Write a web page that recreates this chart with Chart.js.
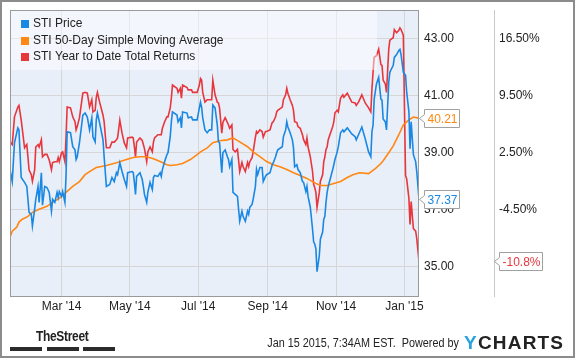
<!DOCTYPE html>
<html>
<head>
<meta charset="utf-8">
<script src="https://cdn.jsdelivr.net/npm/chart.js@4.4.1/dist/chart.umd.min.js"></script>
<style>
  html, body { margin: 0; padding: 0; background: #fff; }
  #wrap { position: relative; width: 575px; height: 358px; overflow: hidden; font-family: Arial, "Liberation Sans", sans-serif; }
  #wrap canvas { position: absolute; left: 0; top: 0; }
  .frame { position: absolute; left: 0; top: 0; width: 575px; height: 358px; box-sizing: border-box; border: 2px solid #8c8c8c; pointer-events: none; }
  .street { position: absolute; left: 36px; top: 327px; font: bold 15px Arial, "Liberation Sans", sans-serif; color: #222; letter-spacing: -0.4px; transform: scaleX(0.8); transform-origin: 0 0; }
  .bar { position: absolute; top: 347px; height: 4px; width: 32px; background: #2b2b2b; }
  .stamp { position: absolute; right: 116px; top: 336px; font-size: 12px; color: #222; white-space: nowrap; transform: scaleX(0.9); transform-origin: 100% 0; }
  .ych { position: absolute; left: 464px; top: 332px; font: bold 19px Arial, "Liberation Sans", sans-serif; letter-spacing: 1.2px; color: #222; }
  .ych span { color: #29a3dd; }
</style>
</head>
<body>
<div id="wrap">
  <canvas id="chart" width="575" height="358"></canvas>
  <div class="street">TheStreet</div>
  <div class="bar" style="left:10px"></div>
  <div class="bar" style="left:47px"></div>
  <div class="bar" style="left:83px"></div>
  <div class="stamp">Jan 15 2015, 7:34AM EST.&nbsp; Powered by</div>
  <div class="ych"><span>Y</span>CHARTS</div>
  <div class="frame"></div>
</div>
<script>
// day numbers count from 2014-01-14
const startDate = '2014-01-14';
const tickDates = ['2014-03-01', '2014-05-01', '2014-07-01', '2014-09-01', '2014-11-01', '2015-01-01'];
const tickLabels = ["Mar '14", "May '14", "Jul '14", "Sep '14", "Nov '14", "Jan '15"];
const priceTicks = [35, 37, 39, 41, 43];
const returnTicks = [16.5, 9.5, 2.5, -4.5];

const seriesNames = ['STI Price', 'STI 50-Day Simple Moving Average', 'STI Year to Date Total Returns'];
const seriesColors = ['#1a88e3', '#ff8712', '#e8363d'];

const days = [0, 2, 4, 7, 8, 10, 13, 15, 16, 17, 19, 20, 22, 23, 25, 26, 28, 29, 31, 33,
  35, 37, 38, 40, 42, 43, 44, 46, 47, 49, 50, 51, 54, 56, 58, 59, 60, 62, 65, 67,
  69, 71, 73, 74, 76, 77, 78, 80, 83, 84, 86, 89, 91, 93, 95, 96, 98, 100, 102, 104,
  105, 109, 110, 111, 112, 113, 116, 118, 119, 120, 122, 123, 125, 127, 128, 129, 132, 134, 135, 136,
  138, 140, 141, 143, 144, 145, 149, 150, 152, 153, 154, 158, 159, 162, 163, 167, 169, 170, 171, 172,
  174, 176, 178, 180, 181, 183, 185, 186, 187, 189, 190, 192, 194, 195, 196, 198, 199, 201, 203, 204,
  205, 207, 208, 210, 212, 213, 214, 216, 217, 219, 220, 221, 223, 225, 226, 228, 229, 232, 234, 235,
  237, 238, 239, 243, 244, 246, 247, 248, 250, 252, 253, 254, 256, 257, 259, 261, 262, 264, 265, 266,
  268, 270, 271, 272, 273, 274, 276, 277, 279, 280, 281, 282, 283, 284, 288, 289, 290, 292, 293, 295,
  297, 298, 301, 305, 308, 309, 311, 314, 317, 320, 322, 323, 324, 325, 327, 329, 331, 332, 333, 335,
  336, 338, 339, 342, 343, 345, 347, 348, 349, 351, 353, 354, 356, 357, 358, 360, 362, 363, 365];

const price = [38.41, 37.99, 39.35, 39.87, 39.80, 38.13, 37.96, 37.82, 37.37, 36.91, 36.84, 36.43, 37.02, 37.37, 37.82, 37.26, 38.30, 37.16, 37.82, 37.78,
  37.61, 36.95, 37.37, 37.26, 37.61, 37.43, 37.64, 37.47, 37.64, 37.26, 38.17, 39.73, 39.70, 39.21, 39.10, 38.76, 38.86, 39.35, 40.32, 40.39,
  40.25, 39.80, 40.22, 39.56, 39.38, 40.15, 40.39, 40.04, 39.45, 38.86, 37.82, 37.89, 38.13, 37.99, 38.30, 38.23, 38.65, 38.34, 38.06, 37.82,
  38.30, 38.34, 38.30, 37.96, 37.54, 38.17, 38.30, 38.06, 37.82, 37.54, 37.26, 37.61, 37.96, 37.71, 38.13, 38.20, 38.17, 38.30, 38.17, 38.41,
  38.69, 38.93, 39.00, 39.56, 40.08, 40.43, 40.32, 40.08, 40.22, 39.87, 40.43, 40.39, 40.22, 40.25, 40.15, 40.15, 40.57, 40.77, 40.60, 40.22,
  39.80, 39.70, 39.80, 39.80, 40.67, 40.57, 39.97, 39.38, 39.35, 38.30, 39.00, 39.10, 38.86, 38.76, 38.51, 38.76, 37.61, 37.54, 37.47, 37.02,
  36.60, 36.95, 36.77, 36.60, 36.95, 36.84, 37.09, 37.19, 37.37, 37.82, 38.41, 38.23, 38.48, 38.48, 37.99, 38.17, 38.23, 38.30, 38.58, 38.65,
  38.86, 39.00, 39.10, 39.21, 39.56, 39.80, 40.08, 39.90, 39.70, 39.45, 39.17, 38.51, 38.58, 38.41, 38.30, 37.99, 37.96, 37.64, 37.82, 37.47,
  37.09, 36.32, 35.87, 35.80, 35.63, 34.83, 35.38, 35.97, 36.22, 36.67, 36.77, 37.26, 37.61, 37.82, 38.41, 38.58, 38.76, 39.03, 39.21, 39.70,
  39.80, 39.73, 39.87, 39.66, 39.56, 39.45, 39.63, 39.90, 39.49, 39.03, 38.86, 39.73, 39.97, 40.88, 41.40, 41.64, 40.88, 40.84, 40.18, 40.08,
  39.80, 41.47, 41.82, 42.06, 42.34, 42.44, 42.58, 42.62, 42.44, 41.82, 41.71, 41.12, 40.43, 39.14, 40.08, 38.93, 38.69, 38.34, 37.37];

const totalReturn = [3.8, 3.5, 6.9, 8.1, 8.3, 6.5, 3.1, 3.5, 2.0, 0.4, -0.2, -1.0, 0.4, 3.2, 3.5, 3.2, 4.1, 2.0, 2.3, 2.3,
  1.6, 0.4, 1.3, 1.4, 1.4, 1.9, 1.4, 2.5, 2.6, 1.4, 4.4, 8.1, 8.0, 6.9, 6.3, 5.3, 5.7, 6.8, 9.8, 9.9,
  9.8, 8.1, 9.0, 7.5, 7.7, 9.3, 9.9, 8.7, 7.1, 6.3, 3.1, 3.1, 3.8, 3.8, 4.1, 4.3, 6.5, 4.9, 3.7, 3.1,
  4.3, 4.4, 4.3, 3.2, 2.0, 3.8, 4.3, 4.0, 3.5, 3.0, 1.4, 2.6, 3.2, 2.6, 3.8, 4.3, 4.7, 4.7, 4.7, 5.5,
  6.3, 6.9, 6.9, 8.0, 9.2, 10.8, 10.4, 9.9, 10.4, 9.2, 10.8, 10.5, 10.2, 10.2, 9.9, 9.9, 10.8, 11.6, 11.4, 9.9,
  8.7, 9.0, 9.0, 9.0, 11.4, 9.6, 8.7, 8.6, 8.0, 4.9, 6.2, 6.8, 6.2, 5.9, 5.5, 5.9, 2.9, 2.6, 2.9, 1.6,
  0.2, 1.3, 0.8, 0.2, 1.3, 0.8, 1.4, 1.9, 2.6, 4.4, 5.1, 4.9, 5.3, 5.1, 4.4, 5.1, 5.1, 5.3, 6.2, 6.3,
  6.9, 7.5, 7.7, 8.1, 9.0, 9.6, 10.4, 9.8, 9.0, 8.3, 7.7, 6.3, 6.2, 5.7, 5.5, 4.7, 4.1, 3.5, 4.3, 3.2,
  2.0, 0.2, -1.4, -1.8, -2.4, -4.2, -2.4, -1.0, -0.2, 1.4, 2.0, 2.9, 3.2, 4.1, 5.7, 6.3, 7.4, 7.7, 7.5, 9.2,
  9.6, 9.3, 9.8, 8.7, 8.6, 8.3, 8.7, 9.6, 8.6, 8.0, 7.5, 10.3, 12.4, 14.2, 14.4, 15.2, 13.3, 13.2, 11.4, 10.9,
  9.9, 15.2, 16.3, 16.6, 17.6, 17.2, 17.5, 17.8, 17.6, 16.9, -0.3, -0.7, -3.1, -6.3, -3.5, -6.8, -7.1, -8.0, -10.8];

const maDays = [0, 2, 6, 8, 11, 16, 20, 26, 33, 38, 44, 50, 56, 62, 67, 71, 77, 86, 95, 104,
  110, 116, 122, 128, 134, 140, 143, 149, 154, 161, 167, 170, 176, 181, 187, 194, 199, 205, 212, 217,
  223, 229, 235, 241, 247, 253, 259, 265, 271, 277, 283, 289, 295, 301, 306, 312, 320, 326, 331, 333,
  338, 342, 347, 351, 356, 360, 365];
const movingAvg = [36.04, 36.25, 36.39, 36.57, 36.67, 36.77, 36.91, 37.02, 37.12, 37.26, 37.40, 37.61, 37.82, 37.99, 38.23, 38.34, 38.48, 38.55, 38.65, 38.76,
  38.83, 38.86, 38.86, 38.79, 38.69, 38.58, 38.55, 38.58, 38.62, 38.76, 38.93, 39.03, 39.17, 39.35, 39.42, 39.45, 39.52, 39.38, 39.21, 39.03,
  38.86, 38.69, 38.58, 38.51, 38.41, 38.30, 38.20, 38.10, 37.96, 37.85, 37.85, 37.92, 37.99, 38.13, 38.23, 38.30, 38.27, 38.44, 38.62, 38.72,
  39.00, 39.24, 39.63, 39.97, 40.15, 40.25, 40.21];

// axis range; right % axis is tied to the price axis (16.5% at 43.00, 3.5% per dollar)
const priceMin = 33.98, priceMax = 44.0;
const pctAt43 = 16.5, pctPerDollar = 3.5;

const dayOf = d => (Date.parse(d) - Date.parse(startDate)) / 86400000;
const tickDays = tickDates.map(dayOf);
const toPts = (xs, ys) => xs.map((x, i) => ({ x: x, y: ys[i] }));

const FONT = 'Arial, "Liberation Sans", sans-serif';
Chart.defaults.font.family = FONT;
Chart.defaults.font.size = 12;
Chart.defaults.color = '#222';

const tagFormats = [v => v.toFixed(2), v => v.toFixed(2), v => v.toFixed(1) + '%'];

const plotBg = {
  id: 'plotBg',
  beforeDraw(chart) {
    const { ctx, chartArea: a } = chart;
    ctx.save();
    ctx.fillStyle = '#e9eff9';
    ctx.fillRect(a.left, a.top, a.right - a.left, a.bottom - a.top);
    ctx.restore();
  },
  afterDatasetsDraw(chart) {
    const { ctx, chartArea: a } = chart;
    ctx.save();
    // legend band
    ctx.fillStyle = 'rgba(255,255,255,0.45)';
    ctx.fillRect(a.left, a.top, 367, 60);
    ctx.font = '12px ' + FONT;
    ctx.textBaseline = 'middle';
    seriesNames.forEach((name, i) => {
      const y = a.top + 14 + i * 16.5;
      ctx.fillStyle = seriesColors[i];
      ctx.fillRect(a.left + 11, Math.round(y - 4), 8, 8);
      ctx.fillStyle = '#222';
      ctx.fillText(name, a.left + 23, y);
    });
    ctx.strokeStyle = '#9a9a9a';
    ctx.lineWidth = 1;
    ctx.strokeRect(a.left + 0.5, a.top + 0.5, a.right - a.left - 1, a.bottom - a.top);
    ctx.restore();
  }
};

const endTags = {
  id: 'endTags',
  afterDraw(chart) {
    const ctx = chart.ctx;
    ctx.save();
    ctx.font = '12px ' + FONT;
    ctx.textBaseline = 'middle';
    chart.data.datasets.forEach((ds, i) => {
      const meta = chart.getDatasetMeta(i);
      const pt = meta.data[meta.data.length - 1];
      const scale = chart.scales[ds.yAxisID];
      const text = tagFormats[i](ds.data[ds.data.length - 1].y);
      const y = Math.round(pt.y) + 0.5;
      const x0 = scale.left + 0.5;
      const left = scale.left + 5.5;
      const w = Math.round(ctx.measureText(text).width) + 5;
      const h = 18;
      ctx.beginPath();
      ctx.moveTo(x0, y);
      ctx.lineTo(left, y - 4);
      ctx.lineTo(left, y - h / 2);
      ctx.lineTo(left + w, y - h / 2);
      ctx.lineTo(left + w, y + h / 2);
      ctx.lineTo(left, y + h / 2);
      ctx.lineTo(left, y + 4);
      ctx.closePath();
      ctx.fillStyle = '#fff';
      ctx.fill();
      ctx.strokeStyle = '#a0a0a0';
      ctx.lineWidth = 1;
      ctx.stroke();
      ctx.fillStyle = ds.borderColor;
      ctx.fillText(text, left + 3, y + 1);
    });
    ctx.restore();
  }
};

const noPad = s => { s.paddingTop = 0; s.paddingBottom = 0; s.paddingLeft = 0; s.paddingRight = 0; };

new Chart(document.getElementById('chart'), {
  type: 'line',
  data: {
    datasets: [
      { label: seriesNames[0], data: toPts(days, price), yAxisID: 'y', borderColor: seriesColors[0] },
      { label: seriesNames[1], data: toPts(maDays, movingAvg), yAxisID: 'y', borderColor: seriesColors[1] },
      { label: seriesNames[2], data: toPts(days, totalReturn), yAxisID: 'y2', borderColor: seriesColors[2] }
    ]
  },
  options: {
    responsive: false,
    animation: false,
    events: [],
    layout: { padding: { left: 10, top: 10, right: 11, bottom: 40 } },
    elements: {
      line: { borderWidth: 1.6, tension: 0, fill: false },
      point: { radius: 0 }
    },
    plugins: { legend: { display: false }, tooltip: { enabled: false } },
    scales: {
      x: {
        type: 'linear', min: 0, max: 365,
        grid: { color: '#d6d6d6', drawTicks: false },
        border: { display: false },
        ticks: {
          padding: 3, maxRotation: 0, autoSkip: false,
          callback: v => tickLabels[tickDays.indexOf(v)]
        },
        afterBuildTicks: s => { s.ticks = tickDays.map(v => ({ value: v })); },
        afterFit: s => { s.height = 22; noPad(s); }
      },
      y: {
        position: 'right', weight: 0,
        min: priceMin, max: priceMax,
        grid: { color: '#d6d6d6', drawTicks: false },
        border: { display: false },
        ticks: { padding: 5, callback: v => v.toFixed(2) },
        afterBuildTicks: s => { s.ticks = priceTicks.map(v => ({ value: v })); },
        afterFit: s => { s.width = 75; noPad(s); }
      },
      y2: {
        position: 'right', weight: 1,
        min: pctAt43 + (priceMin - 43) * pctPerDollar,
        max: pctAt43 + (priceMax - 43) * pctPerDollar,
        grid: { display: false, drawTicks: false },
        border: { display: true, color: '#c8c8c8' },
        ticks: { padding: 5, callback: v => v.toFixed(2) + '%' },
        afterBuildTicks: s => { s.ticks = returnTicks.map(v => ({ value: v })); },
        afterFit: s => { s.width = 70; noPad(s); }
      }
    }
  },
  plugins: [plotBg, endTags]
});
</script>
</body>
</html>
